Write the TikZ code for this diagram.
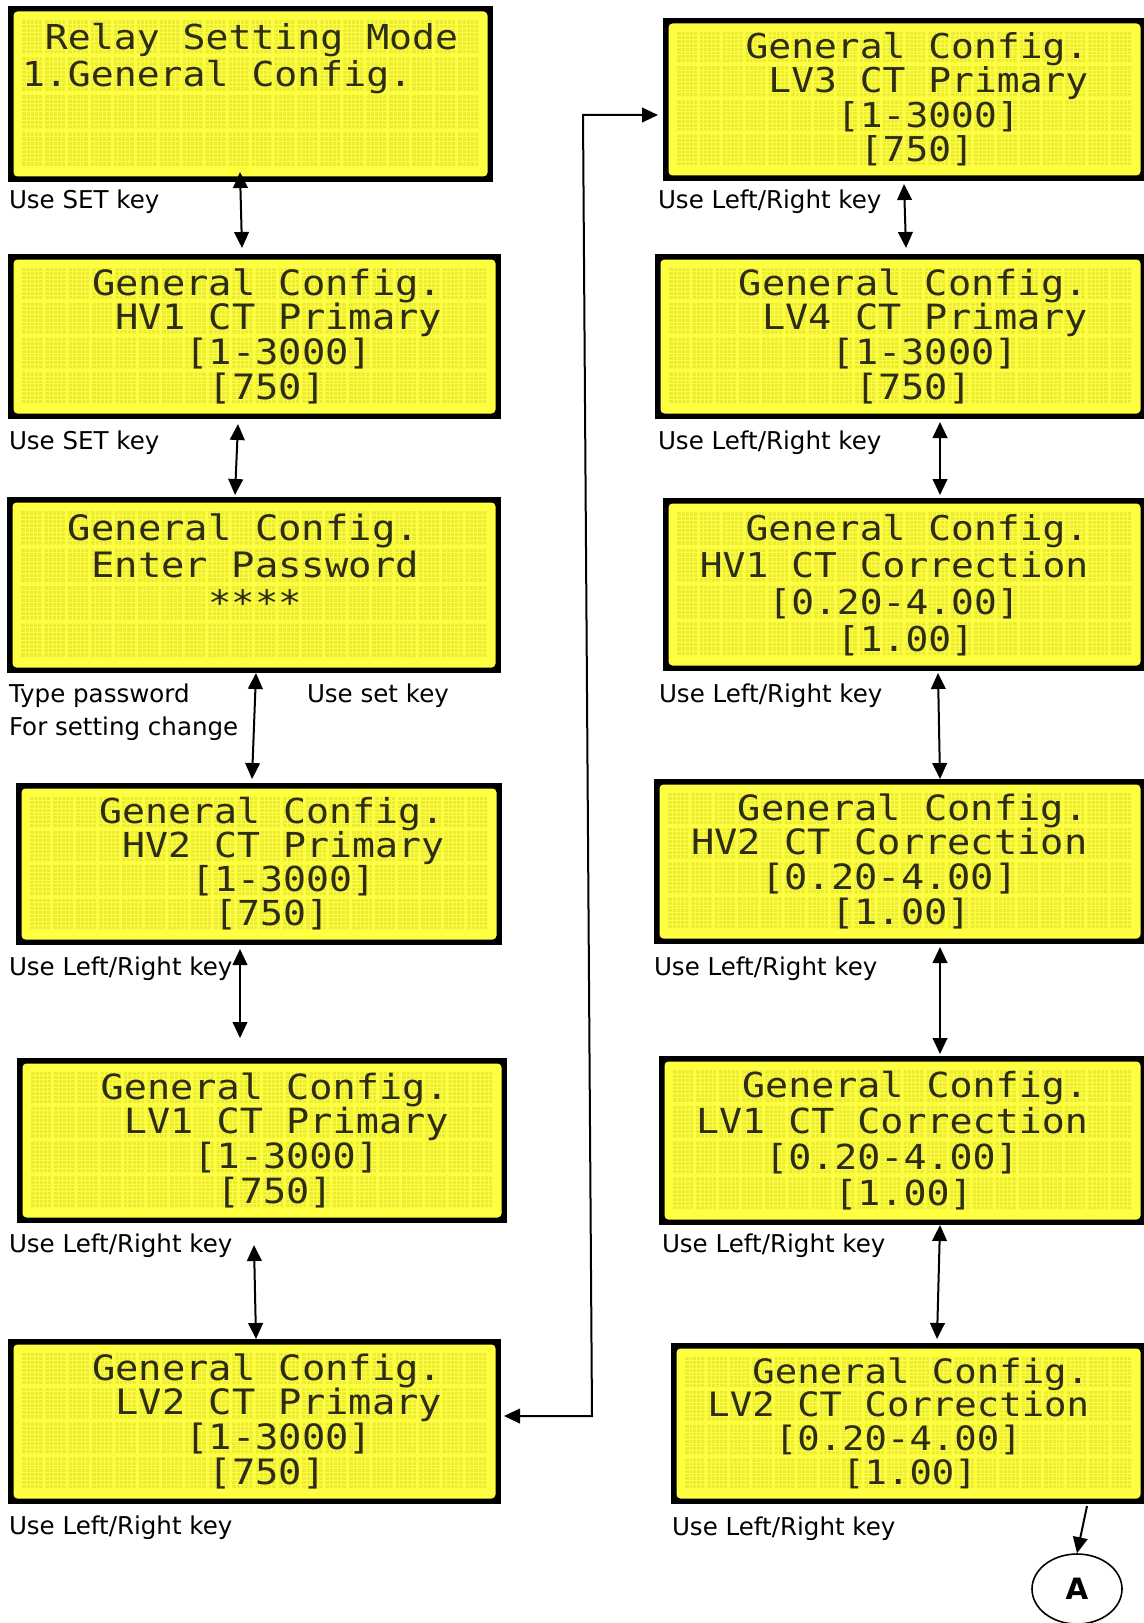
\documentclass[tikz,border=0pt]{standalone}
\usepackage{fontspec}
\setmainfont{DejaVu Sans}
\newfontfamily\lcdfont{DejaVu Sans Mono}
\usetikzlibrary{arrows.meta,calc,fit,shapes.geometric}

\definecolor{lcdbg}{RGB}{255,255,66}
\definecolor{lcdcell}{RGB}{236,236,54}
\definecolor{lcdtext}{RGB}{45,45,22}

\tikzset{
  conn/.style={line width=1.5pt},
  tip/.tip={Triangle[length=12pt,width=11pt]},
  dblarrow/.style={conn,tip-tip},
  onearrow/.style={conn,-tip},
  lbl/.style={anchor=base west,inner sep=0pt,outer sep=0pt,font=\fontsize{18.4pt}{22pt}\selectfont},
}

% #1 name, #2 x0, #3 y0, #4 x1, #5 y1 (pixel units, y downward)
\newcommand\lcdbox[5]{%
  \fill[black] (#2,#3) rectangle (#4,#5);
  \fill[lcdbg,rounded corners=3pt] (#2+5.5,#3+5.5) rectangle (#4-5.5,#5-5.5);
  \pgfmathsetmacro\lcdAx{#2+14}\pgfmathsetmacro\lcdBx{#4-15}%
  \pgfmathsetmacro\lcdAy{#3+14}\pgfmathsetmacro\lcdBy{#5-16}%
  \pgfmathsetmacro\lcdP{(\lcdBx-\lcdAx+3)/20}\pgfmathsetmacro\lcdW{\lcdP-3}%
  \pgfmathsetmacro\lcdQ{(\lcdBy-\lcdAy+4)/4}\pgfmathsetmacro\lcdH{\lcdQ-4}%
  \pgfmathsetmacro\lcdFs{\lcdP/0.602*0.75}%
  \fill[lcdcell] \foreach \c in {0,...,19}{\foreach \r in {0,...,3}{
      (\lcdAx+\c*\lcdP,\lcdAy+\r*\lcdQ) rectangle ++(\lcdW,\lcdH)}};
  \draw[lcdbg,line width=0.55pt] \foreach \c in {0,...,19}{\foreach \k in {1,...,4}{
      (\lcdAx+\c*\lcdP+\k*\lcdW/5,\lcdAy) -- (\lcdAx+\c*\lcdP+\k*\lcdW/5,\lcdBy)}};
  \draw[lcdbg,line width=0.55pt] \foreach \r in {0,...,3}{\foreach \k in {1,...,7}{
      (\lcdAx,\lcdAy+\r*\lcdQ+\k*\lcdH/8) -- (\lcdBx,\lcdAy+\r*\lcdQ+\k*\lcdH/8)}};
  \node[fit={(#2,#3) (#4,#5)},inner sep=0pt,outer sep=0pt] (#1) {};
}
% #1 column, #2 row, #3 text
\newcommand\lcdtxt[3]{%
  \node[anchor=base west,inner sep=0pt,outer sep=0pt,text=lcdtext,
        font=\lcdfont\fontsize{\lcdFs pt}{\lcdFs pt}\selectfont]
    at (\lcdAx+#1*\lcdP,\lcdAy+#2*\lcdQ+0.88*\lcdH) {\scalebox{1}[0.9]{#3}};
}

\begin{document}
\begin{tikzpicture}[x=0.75pt,y=-0.75pt]
\useasboundingbox (0,0) rectangle (1144,1623);
\fill[white] (0,0) rectangle (1144,1623);
\clip (0,0) rectangle (1144,1623);

% ---------- left column ----------
\lcdbox{L1}{8}{6}{493}{182}
\lcdtxt{1}{0}{Relay Setting Mode}
\lcdtxt{0}{1}{1.General Config.}

\lcdbox{L2}{8}{254}{501}{419}
\lcdtxt{3}{0}{General Config.}
\lcdtxt{4}{1}{HV1 CT Primary}
\lcdtxt{7}{2}{[1-3000]}
\lcdtxt{8}{3}{[750]}

\lcdbox{L3}{7}{497}{501}{673}
\lcdtxt{2}{0}{General Config.}
\lcdtxt{3}{1}{Enter Password}
\lcdtxt{8}{2}{****}

\lcdbox{L4}{16}{783}{502}{945}
\lcdtxt{3}{0}{General Config.}
\lcdtxt{4}{1}{HV2 CT Primary}
\lcdtxt{7}{2}{[1-3000]}
\lcdtxt{8}{3}{[750]}

\lcdbox{L5}{17}{1058}{507}{1223}
\lcdtxt{3}{0}{General Config.}
\lcdtxt{4}{1}{LV1 CT Primary}
\lcdtxt{7}{2}{[1-3000]}
\lcdtxt{8}{3}{[750]}

\lcdbox{L6}{8}{1339}{501}{1504}
\lcdtxt{3}{0}{General Config.}
\lcdtxt{4}{1}{LV2 CT Primary}
\lcdtxt{7}{2}{[1-3000]}
\lcdtxt{8}{3}{[750]}

% ---------- right column ----------
\lcdbox{R1}{663}{18}{1146}{181}
\lcdtxt{3}{0}{General Config.}
\lcdtxt{4}{1}{LV3 CT Primary}
\lcdtxt{7}{2}{[1-3000]}
\lcdtxt{8}{3}{[750]}

\lcdbox{R2}{655}{254}{1146}{419}
\lcdtxt{3}{0}{General Config.}
\lcdtxt{4}{1}{LV4 CT Primary}
\lcdtxt{7}{2}{[1-3000]}
\lcdtxt{8}{3}{[750]}

\lcdbox{R3}{663}{498}{1146}{671}
\lcdtxt{3}{0}{General Config.}
\lcdtxt{1}{1}{HV1 CT Correction}
\lcdtxt{4}{2}{[0.20-4.00]}
\lcdtxt{7}{3}{[1.00]}

\lcdbox{R4}{654}{779}{1146}{944}
\lcdtxt{3}{0}{General Config.}
\lcdtxt{1}{1}{HV2 CT Correction}
\lcdtxt{4}{2}{[0.20-4.00]}
\lcdtxt{7}{3}{[1.00]}

\lcdbox{R5}{659}{1056}{1146}{1225}
\lcdtxt{3}{0}{General Config.}
\lcdtxt{1}{1}{LV1 CT Correction}
\lcdtxt{4}{2}{[0.20-4.00]}
\lcdtxt{7}{3}{[1.00]}

\lcdbox{R6}{671}{1343}{1146}{1504}
\lcdtxt{3}{0}{General Config.}
\lcdtxt{1}{1}{LV2 CT Correction}
\lcdtxt{4}{2}{[0.20-4.00]}
\lcdtxt{7}{3}{[1.00]}

% ---------- labels ----------
\node[lbl] (t1) at (9,208) {Use SET key};
\node[lbl] (t2) at (9,449) {Use SET key};
\node[lbl] (t3) at (9,702) {Type password};
\node[lbl] (t3b) at (9,735) {For setting change};
\node[lbl] (t3c) at (307,702) {Use set key};
\node[lbl] (t4) at (9,975) {Use Left/Right key};
\node[lbl] (t5) at (9,1252) {Use Left/Right key};
\node[lbl] (t6) at (9,1534) {Use Left/Right key};

\node[lbl] (u1) at (658,209) {Use Left/Right key};
\node[lbl] (u2) at (658,449) {Use Left/Right key};
\node[lbl] (u3) at (659,702) {Use Left/Right key};
\node[lbl] (u4) at (654,975) {Use Left/Right key};
\node[lbl] (u5) at (662,1252) {Use Left/Right key};
\node[lbl] (u6) at (672,1535) {Use Left/Right key};

% ---------- terminal ----------
\node[draw,ellipse,line width=1.2pt,minimum width=67.5pt,minimum height=52.5pt,
      inner sep=0pt,font=\fontsize{22pt}{26pt}\selectfont\bfseries] (A) at (1077,1589) {A};

% ---------- connectors ----------
\draw[dblarrow] ($(L1.south west)+(232,-10)$) -- ($(L2.north west)+(234,-6)$);
\draw[dblarrow] ($(L2.south west)+(230,5)$) -- ($(L3.north west)+(228,-2)$);
\draw[dblarrow] ($(L3.south west)+(249,0)$) -- ($(L4.north west)+(236,-4)$);
\draw[dblarrow] ($(L4.south west)+(224,4)$) -- ($(L5.north west)+(223,-20)$);
\draw[dblarrow] ($(L5.south west)+(237,22)$) -- ($(L6.north west)+(248,0)$);

\coordinate (bendB) at (592,1416);
\coordinate (bendT) at (583,115);
\draw[dblarrow] ($(L6.east)+(3,-5.5)$) -- (bendB) -- (bendT) -- ($(R1.west)+(-5,15.5)$);

\draw[dblarrow] ($(R1.south west)+(241,3)$) -- ($(R2.north west)+(251,-6)$);
\draw[dblarrow] ($(R2.south west)+(285,3)$) -- ($(R3.north west)+(277,-3)$);
\draw[dblarrow] ($(R3.south west)+(275,2)$) -- ($(R4.north west)+(286,0)$);
\draw[dblarrow] ($(R4.south west)+(286,3)$) -- ($(R5.north west)+(281,-2)$);
\draw[dblarrow] ($(R5.south west)+(281,0)$) -- ($(R6.north west)+(266,-4)$);
\draw[onearrow] ($(R6.south west)+(416,2)$) -- (A.north);
\end{tikzpicture}
\end{document}
